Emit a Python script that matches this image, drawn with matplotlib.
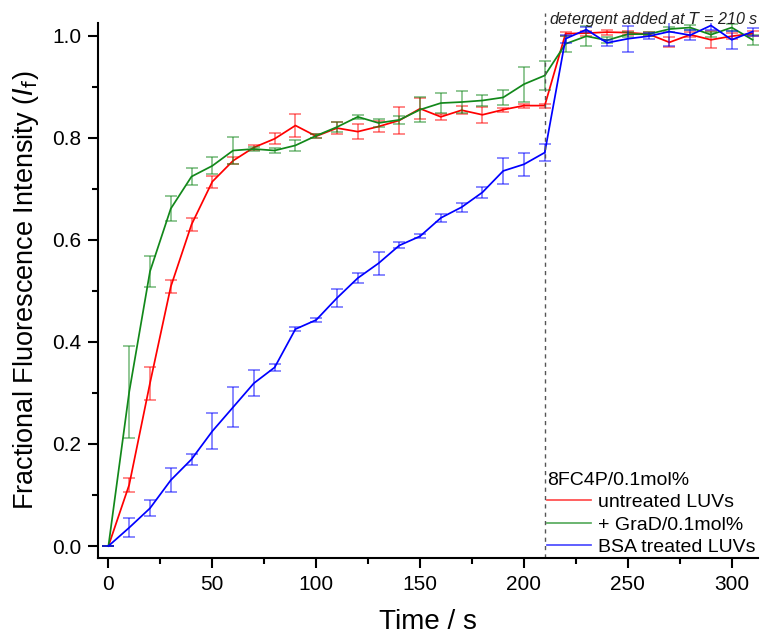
import matplotlib
matplotlib.use("Agg")
import matplotlib.pyplot as plt
from matplotlib.ticker import MultipleLocator

plt.rcParams['font.family'] = ['Liberation Sans', 'DejaVu Sans']

time = [0, 10, 20, 30, 40, 50, 60, 70, 80, 90, 100, 110, 120, 130, 140, 150,
        160, 170, 180, 190, 200, 210, 220, 230, 240, 250, 260, 270, 280, 290, 300, 310]

untreated = [0.0, 0.120, 0.319, 0.508, 0.630, 0.714, 0.755, 0.781, 0.798, 0.824, 0.803,
             0.819, 0.812, 0.822, 0.834, 0.857, 0.841, 0.854, 0.845, 0.855, 0.863, 0.863,
             1.004, 1.005, 1.007, 1.006, 1.003, 0.987, 1.002, 0.992, 0.999, 1.004]
untreated_err = [0.0, 0.014, 0.032, 0.013, 0.012, 0.012, 0.007, 0.005, 0.011, 0.023, 0.004,
                 0.012, 0.014, 0.010, 0.026, 0.020, 0.006, 0.008, 0.016, 0.004, 0.004, 0.004,
                 0.004, 0.005, 0.005, 0.004, 0.004, 0.010, 0.005, 0.017, 0.006, 0.005]

grad = [0.0, 0.302, 0.538, 0.661, 0.724, 0.745, 0.775, 0.778, 0.775, 0.785, 0.804,
        0.821, 0.841, 0.829, 0.835, 0.855, 0.868, 0.870, 0.873, 0.879, 0.905, 0.922,
        0.984, 0.999, 0.991, 1.003, 1.003, 1.013, 1.016, 1.002, 1.016, 0.992]
grad_err = [0.0, 0.090, 0.031, 0.024, 0.016, 0.017, 0.027, 0.004, 0.004, 0.011, 0.004,
            0.009, 0.004, 0.008, 0.008, 0.024, 0.019, 0.022, 0.010, 0.014, 0.034, 0.029,
            0.015, 0.020, 0.006, 0.005, 0.004, 0.005, 0.005, 0.005, 0.006, 0.010]

bsa = [0.0, 0.036, 0.074, 0.129, 0.170, 0.225, 0.272, 0.319, 0.350, 0.425, 0.443,
       0.486, 0.525, 0.554, 0.589, 0.607, 0.643, 0.664, 0.693, 0.735, 0.748, 0.771,
       0.994, 1.012, 0.986, 0.994, 0.999, 1.008, 1.001, 1.020, 0.992, 1.008]
bsa_err = [0.0, 0.018, 0.016, 0.023, 0.011, 0.035, 0.039, 0.026, 0.007, 0.004, 0.004,
           0.018, 0.010, 0.022, 0.006, 0.004, 0.008, 0.009, 0.011, 0.025, 0.023, 0.016,
           0.008, 0.005, 0.006, 0.025, 0.006, 0.028, 0.010, 0.008, 0.018, 0.008]

series = [
    ("untreated LUVs", untreated, untreated_err, "#ff0000"),
    ("+ GraD/0.1mol%", grad, grad_err, "#12881a"),
    ("BSA treated LUVs", bsa, bsa_err, "#0000ff"),
]

fig = plt.figure(figsize=(7.6, 6.37), dpi=100)
ax = fig.add_axes([0.129, 0.124, 0.868, 0.840])

for label, vals, errs, col in series:
    ax.errorbar(time, vals, yerr=errs, fmt='none', ecolor=col, alpha=0.5,
                elinewidth=1.3, capsize=4, capthick=1.3)
    ax.plot(time, vals, color=col, lw=1.25, label=label)

ax.axvline(210, ymin=0, ymax=1.018, color='#555555', lw=1.0, ls=(0, (3, 3)), clip_on=False)
ax.text(212, 1.032, "detergent added at $T$ = 210 s", fontsize=11.6, style='italic',
        ha='left', va='center', color='#222222')

ax.set_xlim(-5, 312.5)
ax.set_ylim(-0.0235, 1.025)
ax.xaxis.set_major_locator(MultipleLocator(50))
ax.xaxis.set_minor_locator(MultipleLocator(25))
ax.yaxis.set_major_locator(MultipleLocator(0.2))
ax.yaxis.set_minor_locator(MultipleLocator(0.1))
ax.yaxis.set_major_formatter(plt.FuncFormatter(lambda v, p: f"{v:.1f}"))

for s in ['top', 'right']:
    ax.spines[s].set_visible(False)
for s in ['left', 'bottom']:
    ax.spines[s].set_linewidth(1.5)
ax.tick_params(which='major', direction='out', length=7, width=1.5, labelsize=15, pad=5)
ax.tick_params(which='minor', direction='out', length=4, width=1.5)

ax.set_xlabel("Time / s", fontsize=20, labelpad=11)
ax.set_ylabel("Fractional Fluorescence Intensity ($I_\\mathrm{f}$)", fontsize=19.5, labelpad=8)

leg = ax.legend(title="8FC4P/0.1mol%", loc='lower right', bbox_to_anchor=(1.0, 0.0),
                frameon=False, fontsize=14, title_fontsize=14, handlelength=2.3,
                handletextpad=0.35, labelspacing=0.25, borderaxespad=0.0, borderpad=0.1,
                alignment='left')
for h in leg.get_lines():
    h.set_alpha(0.7)

fig.savefig("out.png", dpi=100)
